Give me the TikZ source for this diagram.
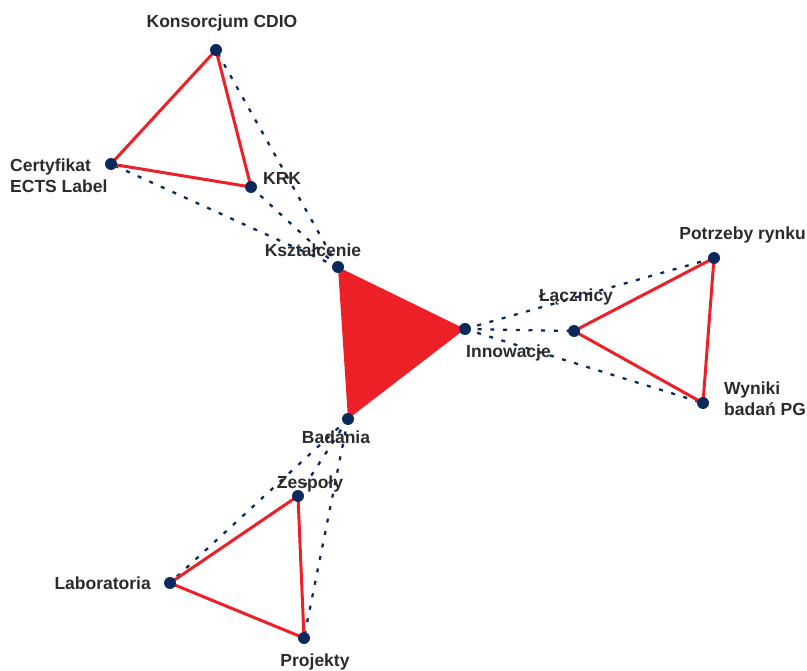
\documentclass[tikz,border=0pt]{standalone}
\usepackage{fontspec}
\setmainfont{Liberation Sans}
\usetikzlibrary{backgrounds}
\definecolor{linkred}{HTML}{EE2027}
\definecolor{dotblue}{HTML}{0B2A5C}
\definecolor{labelgray}{HTML}{2B2B2B}
\begin{document}
\begin{tikzpicture}[x=1pt,y=-1pt,
  dot/.style={circle,fill=dotblue,inner sep=0pt,minimum size=12pt},
  lbl/.style={font=\fontsize{17.5}{21}\selectfont\bfseries,text=labelgray,inner sep=0pt,align=left},
  redlink/.style={draw=linkred,line width=3pt},
  dotlink/.style={draw=dotblue,line width=2.3pt,dash pattern=on 4pt off 8.7pt}]
\useasboundingbox (0,0) rectangle (807,671);

% central nodes
\node[dot] (ksz) at (338,267) {};
\node[dot] (inn) at (465,329) {};
\node[dot] (bad) at (348,419) {};
% top group
\node[dot] (cdio) at (216,50) {};
\node[dot] (ects) at (111,164) {};
\node[dot] (krk) at (251,187) {};
% right group
\node[dot] (lacz) at (574,331) {};
\node[dot] (rynek) at (714,258) {};
\node[dot] (wyniki) at (703,403) {};
% bottom group
\node[dot] (zesp) at (298,496) {};
\node[dot] (lab) at (170,583) {};
\node[dot] (proj) at (304,638) {};

\begin{pgfonlayer}{background}
  \fill[linkred] (ksz.center) -- (inn.center) -- (bad.center) -- cycle;
  \draw[dotlink] (ksz.center) -- (cdio.center);
  \draw[dotlink] (ksz.center) -- (ects.center);
  \draw[dotlink] (ksz.center) -- (krk.center);
  \draw[dotlink] (inn.center) -- (rynek.center);
  \draw[dotlink] (inn.center) -- (lacz.center);
  \draw[dotlink] (inn.center) -- (wyniki.center);
  \draw[dotlink] (bad.center) -- (lab.center);
  \draw[dotlink] (bad.center) -- (zesp.center);
  \draw[dotlink] (bad.center) -- (proj.center);
  \draw[redlink,line join=round] (cdio.center) -- (ects.center) -- (krk.center) -- cycle;
  \draw[redlink,line join=round] (lacz.center) -- (rynek.center) -- (wyniki.center) -- cycle;
  \draw[redlink,line join=round] (zesp.center) -- (lab.center) -- (proj.center) -- cycle;
\end{pgfonlayer}

% labels
\node[lbl] (tksz) at (313,250) {Kształcenie};
\node[lbl,anchor=west] (tinn) at (466,353) {Innowacje};
\node[lbl] (tbad) at (336,437) {Badania};
\node[lbl] (tcdio) at (222,23) {Konsorcjum CDIO};
\node[lbl,anchor=west] (tects) at (10,176) {Certyfikat\\ECTS Label};
\node[lbl,anchor=west] (tkrk) at (263,178) {KRK};
\node[lbl] (tlacz) at (576,297) {Łącznicy};
\node[lbl,anchor=east] (trynek) at (806,235) {Potrzeby rynku};
\node[lbl,anchor=west] (twyniki) at (724,399) {Wyniki\\badań PG};
\node[lbl] (tzesp) at (310,484) {Zespoły};
\node[lbl,anchor=east] (tlab) at (151,583) {Laboratoria};
\node[lbl] (tproj) at (315,662) {Projekty};
\end{tikzpicture}
\end{document}
